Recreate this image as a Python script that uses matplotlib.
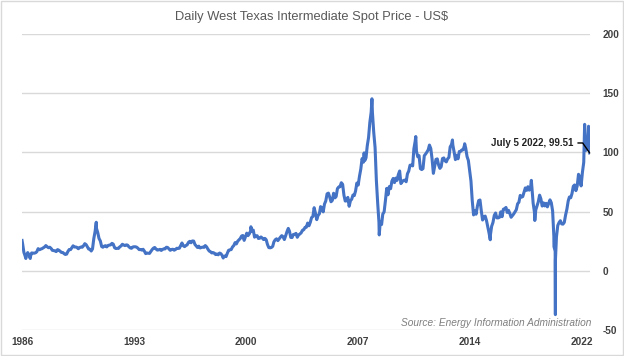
import matplotlib
matplotlib.use("Agg")
import matplotlib.pyplot as plt
import matplotlib.dates as mdates
from matplotlib.patches import Rectangle
import pandas as pd
import numpy as np

plt.rcParams['font.family'] = ['Liberation Sans', 'DejaVu Sans']
plt.rcParams['axes.unicode_minus'] = False

# monthly average WTI spot price, Jan 1986 .. Jun 2022 (US$)
monthly_price = [
    22.9, 15.5, 12.6, 12.8, 15.4, 13.4, 11.6, 15.1, 14.9, 14.9, 15.2, 16.1,  # 1986
    18.7, 17.8, 18.3, 18.7, 19.4, 20.1, 21.3, 20.3, 19.5, 19.9, 18.9, 17.3,  # 1987
    17.1, 16.8, 16.2, 17.9, 17.4, 16.5, 15.5, 15.5, 14.5, 13.8, 14.1, 16.4,  # 1988
    18.0, 17.9, 19.5, 21.1, 20.1, 20.1, 19.8, 18.6, 19.6, 20.1, 19.9, 21.1,  # 1989
    22.9, 22.1, 20.4, 18.4, 18.2, 16.7, 18.5, 27.3, 33.5, 36.0, 32.3, 27.3,  # 1990
    25.2, 20.5, 19.9, 20.8, 21.2, 20.2, 21.4, 21.7, 21.9, 23.2, 22.5, 19.5,  # 1991
    18.8, 19.0, 18.9, 20.2, 21.0, 22.4, 21.8, 21.3, 21.9, 21.7, 20.3, 19.4,  # 1992
    19.0, 20.1, 20.3, 20.3, 20.0, 19.1, 17.9, 18.0, 17.5, 18.2, 16.6, 14.5,  # 1993
    15.0, 14.8, 14.7, 16.4, 17.9, 19.1, 19.7, 18.4, 17.5, 17.7, 18.1, 17.2,  # 1994
    18.0, 18.6, 18.5, 19.9, 19.7, 18.5, 17.3, 18.0, 18.2, 17.4, 18.0, 19.0,  # 1995
    18.9, 19.1, 21.3, 23.5, 21.2, 20.4, 21.3, 21.9, 24.0, 24.9, 23.7, 25.2,  # 1996
    25.1, 22.2, 21.0, 19.7, 20.8, 19.3, 19.7, 20.0, 19.8, 21.3, 20.2, 18.3,  # 1997
    16.7, 16.1, 15.1, 15.4, 14.9, 13.7, 14.2, 13.5, 15.0, 14.5, 13.0, 11.4,  # 1998
    12.5, 12.0, 14.7, 17.3, 17.7, 17.9, 20.1, 21.3, 23.8, 22.7, 25.0, 26.1,  # 1999
    27.3, 29.4, 29.8, 25.7, 28.8, 31.8, 29.7, 31.3, 33.9, 33.1, 34.4, 28.4,  # 2000
    29.6, 29.6, 27.3, 27.5, 28.6, 27.6, 26.4, 27.4, 26.2, 22.2, 19.6, 19.4,  # 2001
    19.7, 20.7, 24.5, 26.2, 27.0, 25.5, 27.0, 28.4, 29.7, 28.8, 26.4, 29.5,  # 2002
    33.0, 35.8, 33.5, 28.2, 28.1, 30.7, 30.8, 31.6, 28.3, 30.3, 31.1, 32.1,  # 2003
    34.3, 34.7, 36.7, 36.8, 40.3, 38.0, 40.8, 44.9, 45.9, 53.3, 48.5, 43.2,  # 2004
    46.8, 48.2, 54.2, 53.0, 49.8, 56.4, 59.0, 65.0, 65.6, 62.3, 58.3, 59.4,  # 2005
    65.5, 61.6, 62.7, 69.4, 70.8, 71.0, 74.4, 73.0, 63.8, 58.9, 59.1, 62.0,  # 2006
    54.5, 59.3, 60.4, 64.0, 63.5, 67.5, 74.1, 72.4, 79.9, 85.8, 94.8, 91.7,  # 2007
    93.0, 95.4, 105.5, 112.6, 125.4, 133.9, 133.4, 116.7, 104.1, 76.6, 57.3, 41.1,  # 2008
    41.7, 39.1, 47.9, 49.7, 59.0, 69.6, 64.2, 71.1, 69.4, 75.7, 78.0, 74.5,  # 2009
    78.3, 76.4, 81.2, 84.3, 73.7, 75.3, 76.3, 76.6, 75.2, 81.9, 84.3, 89.2,  # 2010
    89.2, 88.6, 102.9, 109.5, 100.9, 96.3, 97.3, 86.3, 85.5, 86.3, 97.2, 98.6,  # 2011
    100.3, 102.2, 106.2, 103.3, 94.7, 82.3, 87.9, 94.1, 94.5, 89.5, 86.5, 87.9,  # 2012
    94.8, 95.3, 92.9, 92.0, 94.5, 95.8, 104.7, 106.6, 106.3, 100.5, 93.9, 97.6,  # 2013
    94.6, 100.8, 100.8, 102.1, 102.2, 105.8, 103.6, 96.5, 93.2, 84.4, 75.8, 59.3,  # 2014
    47.2, 50.6, 47.8, 54.5, 59.3, 59.8, 50.9, 42.9, 45.5, 46.2, 42.4, 37.2,  # 2015
    31.7, 30.3, 37.6, 40.8, 46.7, 48.8, 44.7, 44.7, 45.2, 49.8, 45.7, 52.0,  # 2016
    52.5, 53.5, 49.3, 51.1, 48.5, 45.2, 46.6, 48.0, 49.8, 51.6, 56.6, 57.9,  # 2017
    63.7, 62.2, 62.7, 66.3, 70.0, 67.9, 71.0, 68.1, 70.2, 70.8, 57.0, 49.5,  # 2018
    51.4, 55.0, 58.2, 63.9, 60.8, 54.7, 57.4, 54.8, 57.0, 54.0, 57.0, 59.9,  # 2019
    57.5, 50.5, 29.2, 16.6, 28.6, 38.3, 40.7, 42.3, 39.6, 39.4, 40.9, 47.0,  # 2020
    52.0, 59.0, 62.3, 61.7, 65.2, 71.4, 72.5, 67.7, 71.7, 81.5, 79.2, 71.7,  # 2021
    83.2, 91.6, 108.5, 101.8, 109.6, 114.8,  # 2022
]

# daily extremes visible in the chart
spike_dates = ['1986-01-02', '1986-04-01', '1986-07-14', '1990-10-11', '1998-12-10',
               '2000-09-20', '2008-01-02', '2008-07-03', '2008-12-22', '2011-04-29',
               '2013-09-06', '2014-06-20', '2016-02-11', '2018-10-03', '2018-12-24',
               '2020-03-18', '2020-04-20', '2020-04-21', '2022-03-08', '2022-06-08',
               '2022-06-30', '2022-07-05']
spike_values = [25.6, 10.4, 10.4, 41.0, 10.8,
                37.2, 99.6, 145.3, 30.3, 113.4,
                110.5, 107.3, 26.2, 76.4, 42.5,
                20.4, -37.0, 8.9, 123.7, 122.1,
                105.8, 99.51]

year_labels = ['1986', '1993', '2000', '2007', '2014', '2022']
y_ticks = [-50, 0, 50, 100, 150, 200]

month_dates = pd.date_range('1986-01-01', periods=len(monthly_price), freq='MS') + pd.Timedelta(days=14)
s = pd.concat([pd.Series(monthly_price, index=month_dates),
               pd.Series(spike_values, index=pd.to_datetime(spike_dates))]).sort_index()

fig = plt.figure(figsize=(6.24, 3.56), dpi=100)
fig.patches.append(Rectangle((0.002, 0.003), 0.996, 0.994, transform=fig.transFigure,
                             fill=False, edgecolor='#d9d9d9', linewidth=1))
ax = fig.add_axes([22 / 624, 1 - 330 / 356, 568 / 624, 296 / 356])

ax.plot(s.index, s.values, color='#4472c4', linewidth=2.2, solid_joinstyle='round')

x0 = mdates.date2num(pd.Timestamp('1986-01-01'))
ax.set_xlim(x0, mdates.date2num(pd.Timestamp('2022-07-12')))
ax.set_ylim(-50, 200)
ax.set_xticks([x0 + k * 7.2 * 365.25 for k in range(len(year_labels))])
ax.set_xticklabels(year_labels)
ax.set_yticks(y_ticks)
ax.yaxis.tick_right()
ax.tick_params(axis='both', length=0, labelsize=7.2, labelcolor='#404040')
for lab in ax.get_xticklabels() + ax.get_yticklabels():
    lab.set_fontweight('bold')
ax.tick_params(axis='y', pad=9)
ax.tick_params(axis='x', pad=5)
ax.grid(axis='y', color='#d9d9d9', linewidth=1)
ax.set_axisbelow(True)
for sp in ax.spines.values():
    sp.set_visible(False)

fig.text(0.5, 1 - 17 / 356, 'Daily West Texas Intermediate Spot Price - US$',
         ha='center', va='center', fontsize=9.3, color='#595959')
ax.text(591 / 624, 1 - 323 / 356, 'Source: Energy Information Administration',
        transform=fig.transFigure, ha='right', va='center', fontsize=7.3,
        style='italic', color='#7f7f7f')

ax.annotate('July 5 2022, 99.51', xy=(pd.Timestamp('2022-07-05'), 99.51),
            xytext=(-16, 10), textcoords='offset pixels', ha='right', va='center',
            fontsize=7, fontweight='bold', color='#222222',
            arrowprops=dict(arrowstyle='-', color='black', linewidth=1, shrinkA=1, shrinkB=0,
                            relpos=(1, 0.5), connectionstyle='angle,angleA=0,angleB=-55,rad=0'))

fig.savefig('out.png', dpi=100)
